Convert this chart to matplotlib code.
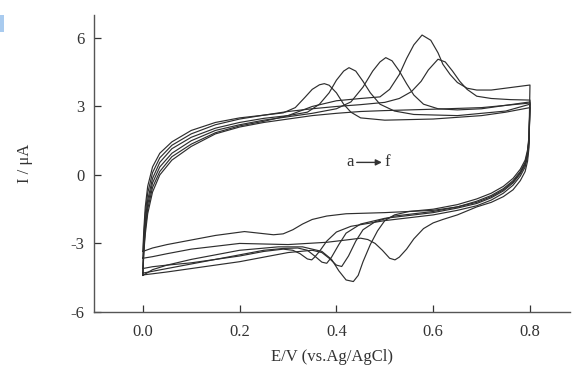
import matplotlib
matplotlib.use('Agg')
import matplotlib.pyplot as plt
import matplotlib.patches as mpatches

plt.rcParams['font.family'] = ['Liberation Serif', 'DejaVu Serif']
plt.rcParams['axes.unicode_minus'] = False

# ── data: cyclic voltammograms a..f, potential E (V) and current I (uA) ────
# anodic (forward) branches, 0 -> 0.8 V
a_ox_E = [0, .002, .005, .01, .02, .035, .06, .1, .15, .2, .25, .29, .315, .335, .35,
          .365, .375, .385, .4, .415, .43, .45, .5, .6, .7, .75, .8]
a_ox_I = [-3.35, -2.4, -1.4, -0.5, 0.35, 0.95, 1.45, 1.95, 2.3, 2.5, 2.62, 2.72, 2.95,
          3.4, 3.75, 3.95, 4.0, 3.93, 3.6, 3.1, 2.75, 2.5, 2.4, 2.45, 2.6, 2.75, 2.95]

b_ox_E = [0, .002, .005, .01, .02, .035, .06, .1, .15, .2, .25, .3, .34, .365, .385,
          .4, .415, .426, .44, .455, .47, .49, .52, .56, .65, .75, .8]
b_ox_I = [-4.1, -3.0, -2.0, -1.1, -0.15, 0.55, 1.15, 1.65, 2.05, 2.3, 2.48, 2.6, 2.75,
          3.1, 3.6, 4.15, 4.55, 4.7, 4.55, 4.1, 3.6, 3.1, 2.8, 2.65, 2.6, 2.8, 3.1]

c_ox_E = [0, .002, .005, .01, .02, .035, .06, .1, .15, .2, .25, .3, .35, .4, .43, .455,
          .475, .49, .502, .515, .53, .545, .56, .58, .61, .65, .7, .8]
c_ox_I = [-4.3, -3.2, -2.2, -1.3, -0.35, 0.35, 0.95, 1.5, 1.95, 2.2, 2.4, 2.55, 2.7,
          2.9, 3.2, 3.85, 4.55, 4.95, 5.14, 5.0, 4.55, 4.0, 3.5, 3.1, 2.9, 2.85, 2.9, 3.2]

d_ox_E = [0, .002, .005, .01, .02, .035, .06, .1, .15, .2, .25, .3, .35, .4, .45, .49,
          .51, .53, .545, .56, .577, .595, .61, .62, .635, .65, .67, .69, .72, .8]
d_ox_I = [-4.38, -3.3, -2.4, -1.5, -0.55, 0.15, 0.8, 1.35, 1.85, 2.15, 2.35, 2.6, 3.0,
          3.25, 3.35, 3.42, 3.75, 4.4, 5.1, 5.7, 6.13, 5.9, 5.35, 4.85, 4.4, 4.05, 3.8,
          3.72, 3.72, 3.94]

e_ox_E = [0, .002, .005, .01, .02, .035, .06, .1, .15, .2, .25, .3, .35, .4, .45, .5,
          .53, .555, .575, .59, .61, .625, .64, .655, .67, .69, .72, .76, .8]
e_ox_I = [-3.65, -2.7, -1.7, -0.8, 0.1, 0.75, 1.3, 1.8, 2.2, 2.45, 2.62, 2.78, 2.9,
          3.0, 3.08, 3.18, 3.35, 3.65, 4.1, 4.6, 5.07, 4.95, 4.55, 4.1, 3.75, 3.45,
          3.35, 3.3, 3.28]

f_ox_E = [0, .002, .005, .01, .02, .035, .06, .1, .15, .2, .25, .3, .35, .4, .45, .5,
          .6, .7, .8]
f_ox_I = [-4.4, -3.4, -2.6, -1.7, -0.75, 0.0, 0.65, 1.25, 1.8, 2.1, 2.3, 2.45, 2.6,
          2.7, 2.78, 2.82, 2.88, 2.95, 3.15]

# cathodic (reverse) branches, 0.8 -> 0 V
a_red_E = [.8, .798, .795, .79, .78, .765, .745, .72, .69, .65, .6, .5, .42, .38, .35,
           .33, .31, .29, .27, .24, .21, .15, .1, .05, .02, 0]
a_red_I = [2.95, 1.55, 0.95, 0.5, 0.1, -0.3, -0.65, -0.95, -1.2, -1.4, -1.55, -1.65,
           -1.7, -1.8, -1.95, -2.15, -2.4, -2.58, -2.62, -2.55, -2.48, -2.65, -2.85,
           -3.05, -3.2, -3.35]

b_red_E = [.8, .798, .795, .79, .78, .765, .745, .72, .69, .65, .6, .5, .43, .4, .38,
           .365, .355, .349, .34, .325, .31, .29, .25, .2, .15, .1, .05, .02, 0]
b_red_I = [3.1, 1.4, 0.8, 0.35, -0.05, -0.45, -0.8, -1.1, -1.35, -1.55, -1.75, -2.0,
           -2.25, -2.5, -2.9, -3.35, -3.6, -3.72, -3.68, -3.45, -3.3, -3.25, -3.35,
           -3.55, -3.7, -3.85, -3.95, -4.02, -4.1]

c_red_E = [.8, .798, .795, .79, .78, .765, .745, .72, .69, .65, .6, .5, .45, .42, .405,
           .39, .38, .37, .355, .34, .32, .29, .25, .2, .15, .1, .05, .02, 0]
c_red_I = [3.2, 1.5, 0.9, 0.45, 0.05, -0.35, -0.7, -1.0, -1.25, -1.45, -1.65, -1.9,
           -2.15, -2.55, -3.05, -3.6, -3.87, -3.82, -3.55, -3.3, -3.2, -3.22, -3.3,
           -3.5, -3.7, -3.9, -4.1, -4.22, -4.3]

d_red_E = [.8, .798, .795, .79, .78, .765, .745, .72, .69, .65, .6, .52, .48, .455, .44,
           .425, .411, .4, .385, .37, .35, .3, .25, .2, .15, .1, .05, .02, 0]
d_red_I = [3.94, 1.6, 1.0, 0.55, 0.15, -0.25, -0.6, -0.9, -1.15, -1.4, -1.6, -1.8,
           -2.05, -2.4, -2.9, -3.55, -4.01, -3.95, -3.65, -3.4, -3.3, -3.4, -3.6, -3.8,
           -3.95, -4.1, -4.25, -4.33, -4.38]

e_red_E = [.8, .798, .795, .79, .78, .765, .745, .72, .69, .65, .62, .6, .58, .56, .545,
           .53, .521, .51, .495, .48, .465, .45, .42, .38, .3, .2, .1, .05, .02, 0]
e_red_I = [3.28, 1.2, 0.6, 0.15, -0.25, -0.65, -0.95, -1.2, -1.4, -1.75, -1.95, -2.1,
           -2.35, -2.8, -3.25, -3.6, -3.72, -3.65, -3.3, -3.0, -2.83, -2.77, -2.85,
           -2.95, -3.05, -3.0, -3.25, -3.45, -3.58, -3.65]

f_red_E = [.8, .798, .795, .79, .78, .765, .745, .72, .69, .65, .6, .55, .52, .5, .485,
           .47, .455, .445, .435, .42, .405, .39, .37, .33, .28, .2, .15, .1, .05, .02, 0]
f_red_I = [3.15, 1.7, 1.1, 0.65, 0.25, -0.15, -0.5, -0.8, -1.05, -1.3, -1.5, -1.6,
           -1.75, -2.0, -2.45, -3.05, -3.8, -4.4, -4.67, -4.6, -4.2, -3.7, -3.35, -3.15,
           -3.15, -3.3, -3.5, -3.7, -3.95, -4.15, -4.4]

curves = [
    (a_ox_E, a_ox_I, a_red_E, a_red_I),
    (b_ox_E, b_ox_I, b_red_E, b_red_I),
    (c_ox_E, c_ox_I, c_red_E, c_red_I),
    (d_ox_E, d_ox_I, d_red_E, d_red_I),
    (e_ox_E, e_ox_I, e_red_E, e_red_I),
    (f_ox_E, f_ox_I, f_red_E, f_red_I),
]

x_ticks = [0.0, 0.2, 0.4, 0.6, 0.8]
y_ticks = [-6, -3, 0, 3, 6]

# ── figure ─────────────────────────────────────────────────────────────────
fig = plt.figure(figsize=(5.73, 3.70), dpi=100)
ax = fig.add_axes([0.164, 0.157, 0.831, 0.802])

for ox_E, ox_I, red_E, red_I in curves:
    ax.plot(list(ox_E) + list(red_E), list(ox_I) + list(red_I),
            color='#2e2e2e', lw=0.85)

ax.set_xlim(-0.101, 0.883)
ax.set_ylim(-6, 7)
ax.set_xticks(x_ticks)
ax.set_xticklabels([f'{v:.1f}' for v in x_ticks])
ax.set_yticks(y_ticks)
ax.tick_params(direction='in', length=5, width=0.9, labelsize=12,
               colors='#333333')
ax.tick_params(axis='x', pad=9)
ax.tick_params(axis='y', pad=7)
for sp in ['top', 'right']:
    ax.spines[sp].set_visible(False)
for sp in ['left', 'bottom']:
    ax.spines[sp].set_color('#555555')
    ax.spines[sp].set_linewidth(1.0)

ax.set_xlabel('E/V (vs.Ag/AgCl)', fontsize=12, color='#333333')
ax.xaxis.set_label_coords(0.5, -0.125)
ax.set_ylabel('I / μA', fontsize=12, color='#333333')
ax.yaxis.set_label_coords(-0.128, 0.5)

# a -> f label
ax.text(0.428, 0.55, 'a', fontsize=12, ha='center', va='center', color='#333333')
ax.text(0.505, 0.55, 'f', fontsize=12, ha='center', va='center', color='#333333')
ax.annotate('', xy=(0.494, 0.55), xytext=(0.442, 0.55),
            arrowprops=dict(arrowstyle='-|>', color='#333333', lw=1.0,
                            mutation_scale=9, shrinkA=0, shrinkB=0))

# small blue mark at the left edge of the crop
fig.patches.append(mpatches.Rectangle((0, 1 - 32 / 370), 4 / 573, 17 / 370,
                                      transform=fig.transFigure,
                                      color='#a9cbef', lw=0))

fig.savefig('out.png', dpi=100)
